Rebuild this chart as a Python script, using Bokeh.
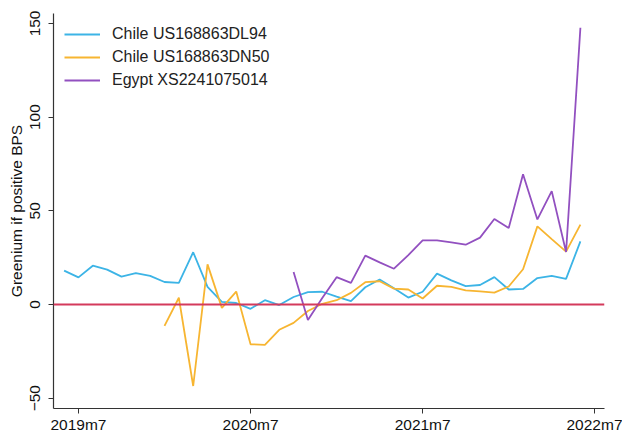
from bokeh.plotting import figure
from bokeh.models import Span, FixedTicker, Range1d, Legend, LegendItem
from bokeh.embed import file_html
from bokeh.resources import INLINE

# Monthly data, x = Stata monthly date (months since 1960m1); 2019m7 = 714
dl94_start = 713  # 2019m6
dl94 = [18.1, 14.5, 20.7, 18.6, 14.9, 16.8, 15.3, 12.0, 11.5, 27.9,
        9.4, 1.4, 0.8, -2.3, 2.3, -0.3, 4.0, 6.6, 6.8, 4.2,
        1.8, 9.2, 13.3, 8.7, 3.7, 6.8, 16.5, 12.9, 9.8, 10.4,
        14.6, 8.0, 8.3, 14.1, 15.3, 13.7, 33.7]

dn50_start = 720  # 2020m1
dn50 = [-11.4, 3.6, -43.5, 21.4, -1.8, 6.9, -21.2, -21.5, -13.5, -9.8,
        -3.5, 0.4, 2.3, 6.2, 11.9, 12.4, 8.5, 8.0, 3.2, 10.0,
        9.4, 7.5, 7.0, 6.3, 9.6, 18.8, 41.7, 34.9, 28.2, 42.6]

egy_start = 729  # 2020m10
egy = [17.4, -8.3, 3.5, 14.6, 11.5, 26.1, 22.5, 19.1, 26.4, 34.2,
       34.2, 33.1, 31.9, 35.7, 45.6, 40.8, 69.5, 45.4, 60.5, 28.0, 147.7]

series_names = ["Chile US168863DL94", "Chile US168863DN50", "Egypt XS2241075014"]
colors = ["#3cb4e6", "#f7b531", "#9250c0"]

x_ticks = [714, 726, 738, 750]
x_tick_labels = ["2019m7", "2020m7", "2021m7", "2022m7"]
y_ticks = [-50, 0, 50, 100, 150]

FONT = "Liberation Sans"

p = figure(width=622, height=435, output_backend="svg", toolbar_location=None,
           x_range=Range1d(712.26, 750.68), y_range=Range1d(-55.5, 155.3),
           min_border_left=53, min_border_right=18, min_border_top=13, min_border_bottom=26)
p.outline_line_color = None
p.xgrid.visible = False
p.ygrid.visible = False

p.add_layout(Span(location=0, dimension="width", line_color="#d43a5c", line_width=1.8))

renderers = []
for start, vals, col in [(dl94_start, dl94, colors[0]), (dn50_start, dn50, colors[1]), (egy_start, egy, colors[2])]:
    xs = list(range(start, start + len(vals)))
    r = p.line(xs, vals, line_color=col, line_width=1.8)
    renderers.append(r)

legend = Legend(items=[LegendItem(label=n, renderers=[r]) for n, r in zip(series_names, renderers)],
                location="top_left", border_line_color=None, background_fill_alpha=0,
                margin=11, padding=11, glyph_width=36, label_standoff=12,
                label_text_font=FONT, label_text_font_size="16px", label_text_color="#222222",
                spacing=3)
p.add_layout(legend)

p.xaxis.ticker = FixedTicker(ticks=x_ticks)
p.xaxis.major_label_overrides = {t: l for t, l in zip(x_ticks, x_tick_labels)}
p.yaxis.ticker = FixedTicker(ticks=y_ticks)
p.yaxis.major_label_orientation = "vertical"
p.yaxis.axis_label = "Greenium if positive BPS"

for ax in [p.xaxis[0], p.yaxis[0]]:
    ax.axis_line_color = "#333333"
    ax.axis_line_width = 1.2
    ax.major_tick_line_color = "#333333"
    ax.major_tick_out = 5
    ax.major_tick_in = 0
    ax.minor_tick_line_color = None
    ax.major_label_text_font = FONT
    ax.major_label_text_font_size = "15.5px"
    ax.major_label_text_color = "#111111"
    ax.axis_label_text_font = FONT
    ax.axis_label_text_font_size = "15.5px"
    ax.axis_label_text_font_style = "normal"
    ax.axis_label_text_color = "#111111"
p.yaxis.major_label_standoff = 8
p.yaxis.axis_label_standoff = 3
p.xaxis.major_label_standoff = 2

open("out.html", "w").write(file_html(p, INLINE))
